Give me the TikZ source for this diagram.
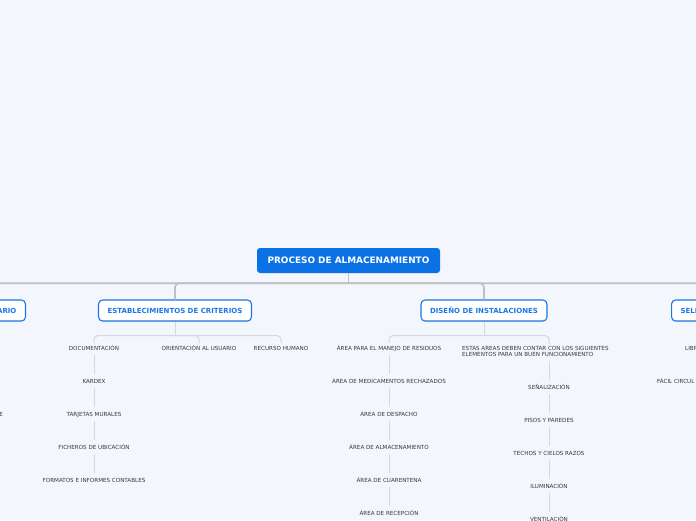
\documentclass[tikz,border=0pt]{standalone}
\usepackage{fontspec}
\setmainfont{DejaVu Sans}
\usepackage{tikz}
\usetikzlibrary{positioning, shadows}

\definecolor{paper}{HTML}{F3F6FD}
\definecolor{rootblue}{HTML}{0B72E5}
\definecolor{topicblue}{HTML}{1A78E6}
\definecolor{busgray}{HTML}{BEC0C6}
\definecolor{twiggray}{HTML}{D4D7DE}
\definecolor{leafink}{HTML}{333842}

\begin{document}
\begin{tikzpicture}[x=1pt, y=1pt, node distance=33pt, on grid,
	root/.style={fill=rootblue, rounded corners=3pt, text=white, font=\bfseries\fontsize{8.9}{10}\selectfont, minimum width=183pt, minimum height=25pt},
	topic/.style={draw=topicblue, line width=1.1pt, fill=white, rounded corners=4pt, text=topicblue, font=\bfseries\fontsize{7}{8}\selectfont, minimum height=21pt, inner xsep=9pt, drop shadow={opacity=0.12, shadow xshift=0pt, shadow yshift=-1pt}},
	leaf/.style={text=leafink, font=\fontsize{5.6}{6.6}\selectfont, inner sep=2pt, text height=4.6pt, text depth=0.4pt},
	note/.style={text=leafink, font=\fontsize{5.6}{6.2}\selectfont, inner sep=2pt, align=left, fill=paper},
	bus/.style={draw=busgray, line width=1.6pt, rounded corners=4pt},
	twig/.style={draw=twiggray, line width=1pt, rounded corners=4pt},
	chain/.style={draw=twiggray, line width=1pt, shorten <=2.5pt, shorten >=2.5pt}]
	\useasboundingbox (0,0) rectangle (696,-520);
	\clip (0,0) rectangle (696,-520);
	\fill[paper] (0,0) rectangle (696,-520);

	\node (pa) [root] at (348.5,-260.5) {PROCESO DE ALMACENAMIENTO};
	\node (us) [topic, anchor=east, text width=80pt, align=right] at (26,-310.5) {ARIO};
	\node (ec) [topic] at (175,-310.5) {ESTABLECIMIENTOS DE CRITERIOS};
	\node (di) [topic] at (484,-310.5) {DISEÑO DE INSTALACIONES};
	\node (se) [topic, anchor=west, text width=80pt, align=left] at (671,-310.5) {SELE};

	\node (doc) [leaf] at (94,-348) {DOCUMENTACIÓN};
	\node (ori) [leaf] at (199,-348) {ORIENTACIÓN AL USUARIO};
	\node (rh) [leaf] at (281,-348) {RECURSO HUMANO};
	\node (kar) [leaf, below=of doc] {KARDEX};
	\node (tm) [leaf, below=of kar] {TARJETAS MURALES};
	\node (fu) [leaf, below=of tm] {FICHEROS DE UBICACIÓN};
	\node (fi) [leaf, below=of fu] {FORMATOS E INFORMES CONTABLES};

	\node (res) [leaf] at (389,-348) {ÁREA PARA EL MANEJO DE RESIDUOS};
	\node (mr) [leaf, below=of res] {ÁREA DE MEDICAMENTOS RECHAZADOS};
	\node (ad) [leaf, below=of mr] {ÁREA DE DESPACHO};
	\node (aa) [leaf, below=of ad] {ÁREA DE ALMACENAMIENTO};
	\node (ac) [leaf, below=of aa] {ÁREA DE CUARENTENA};
	\node (ar) [leaf, below=of ac] {ÁREA DE RECEPCIÓN};
	\node (ele) [note, anchor=west] at (460,-351.5) {ESTAS AREAS DEBEN CONTAR CON LOS SIGUIENTES\\ELEMENTOS PARA UN BUEN FUNCIONAMIENTO};
	\node (sen) [leaf] at (549,-387) {SEÑALIZACIÓN};
	\node (pp) [leaf, below=of sen] {PISOS Y PAREDES};
	\node (tc) [leaf, below=of pp] {TECHOS Y CIELOS RAZOS};
	\node (il) [leaf, below=of tc] {ILUMINACIÓN};
	\node (ve) [leaf, below=of il] {VENTILACIÓN};

	\node (lib) [leaf, anchor=west] at (683,-348) {LIBR};
	\node (fc) [leaf, anchor=west] at (655,-381) {FÁCIL CIRCUL};
	\node (ue) [leaf, anchor=east] at (5,-414) {E};

	\draw[bus] (pa.south) -- ++(0,-10) coordinate (hub);
	\draw[bus] (hub) -| (us.north);
	\draw[bus] (hub) -| (ec.north);
	\draw[bus] (hub) -| (di.north);
	\draw[bus] (hub) -| (se.north);

	\draw[twig] (ec.south) -- ++(0,-14) coordinate (ecb);
	\draw[twig] (ecb) -| (doc.north);
	\draw[twig] (ecb) -| (ori.north);
	\draw[twig] (ecb) -| (rh.north);

	\draw[twig] (di.south) -- ++(0,-14) coordinate (dib);
	\draw[twig] (dib) -| (res.north);
	\draw[twig] (dib) -| (ele.north -| sen);
	\draw[chain] (ele.south -| sen) -- (sen.north);

	\path
		(doc) edge [chain] (kar)
		(kar) edge [chain] (tm)
		(tm) edge [chain] (fu)
		(fu) edge [chain] (fi)
		(res) edge [chain] (mr)
		(mr) edge [chain] (ad)
		(ad) edge [chain] (aa)
		(aa) edge [chain] (ac)
		(ac) edge [chain] (ar)
		(sen) edge [chain] (pp)
		(pp) edge [chain] (tc)
		(tc) edge [chain] (il)
		(il) edge [chain] (ve)
	;
\end{tikzpicture}
\end{document}
